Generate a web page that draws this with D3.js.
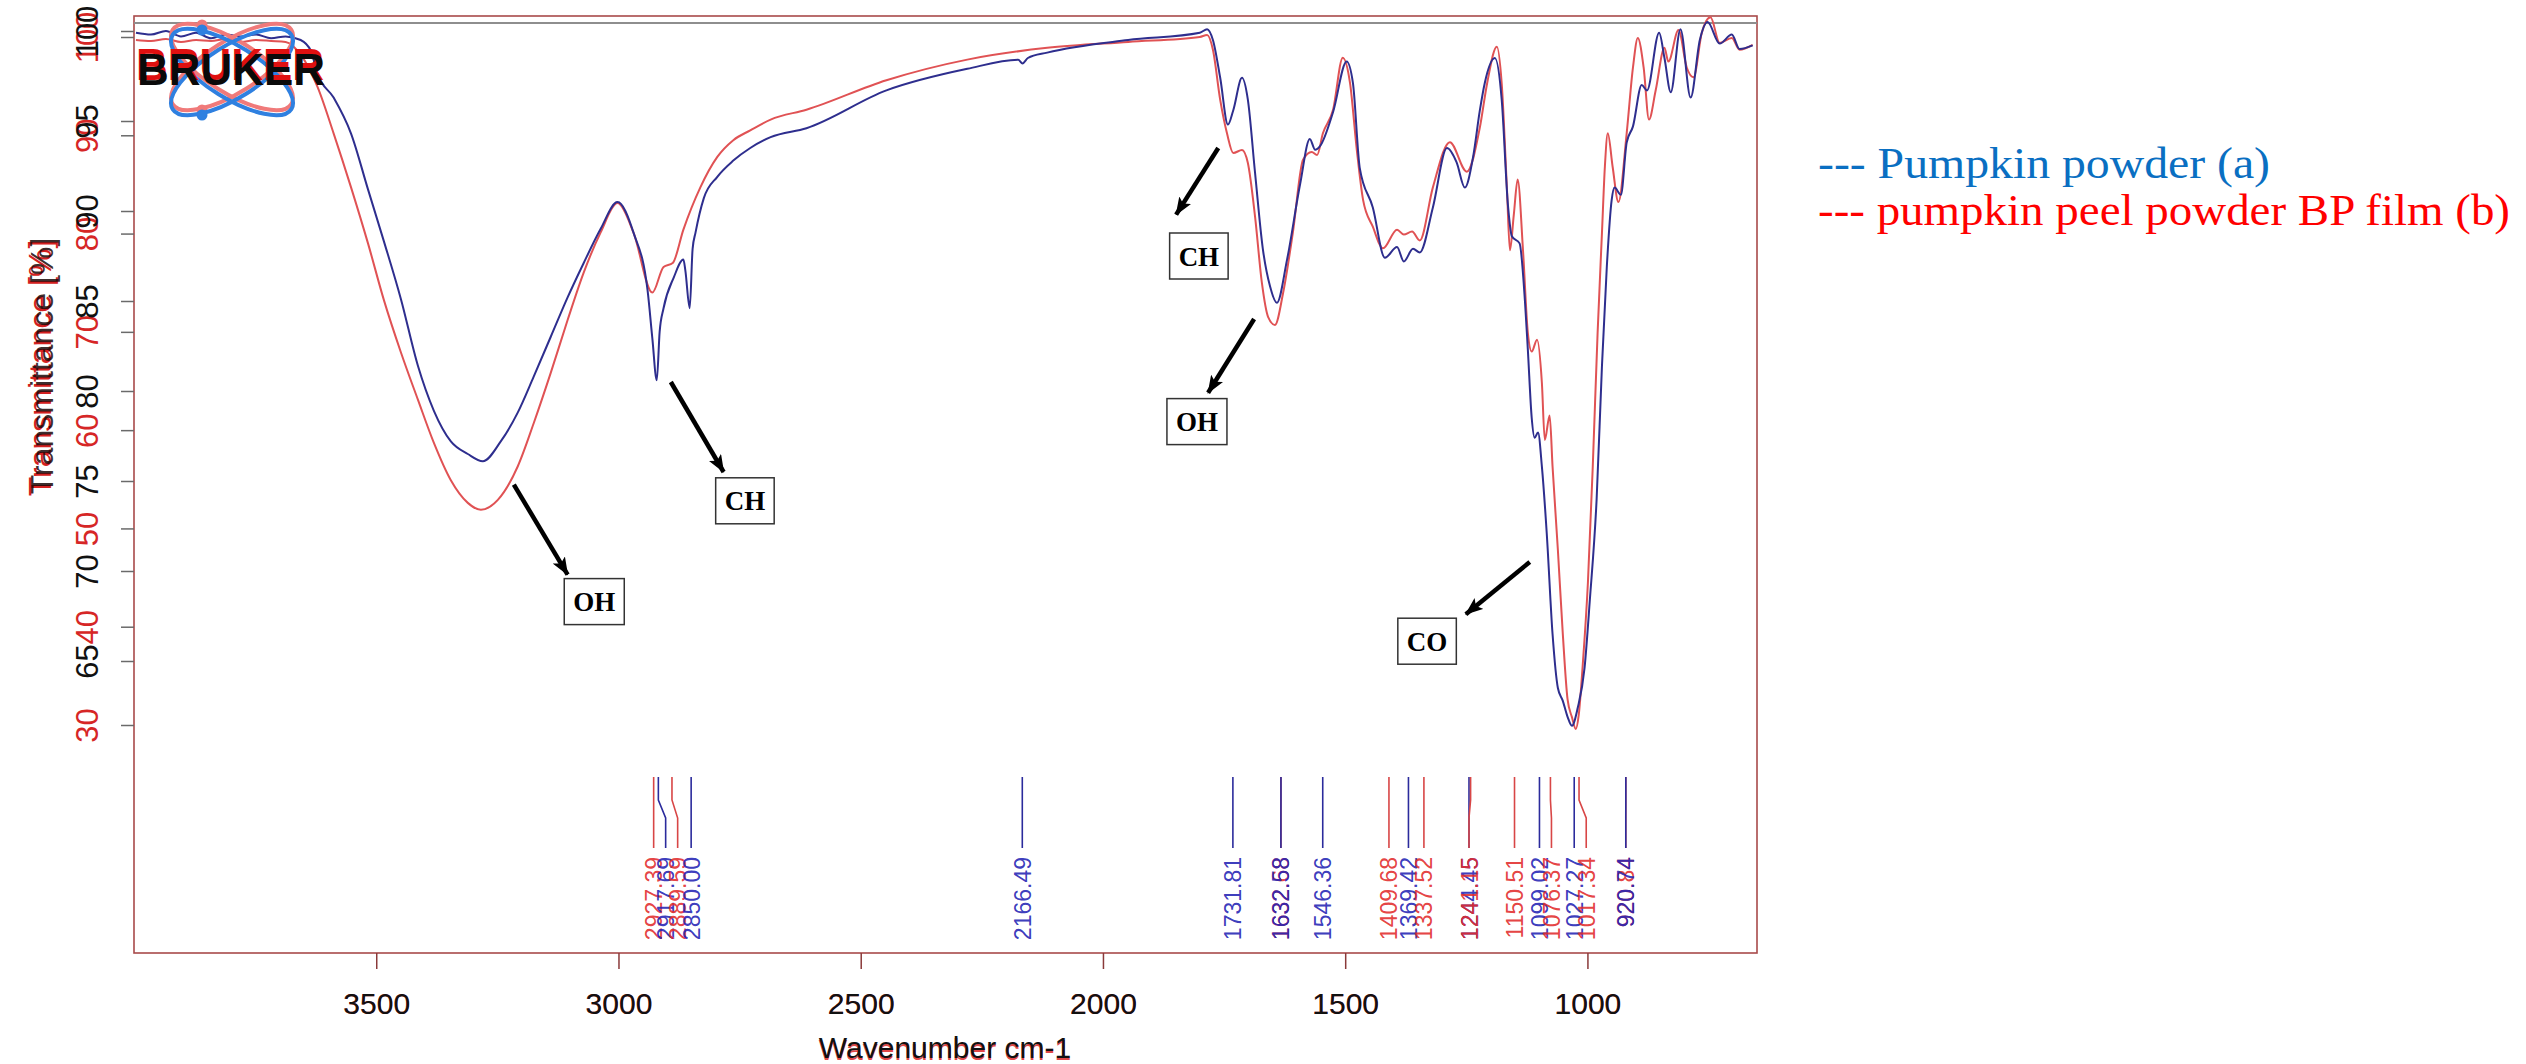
<!DOCTYPE html>
<html>
<head>
<meta charset="utf-8">
<title>FTIR: pumpkin powder vs pumpkin peel powder BP film</title>
<script src="https://cdnjs.cloudflare.com/ajax/libs/d3/7.8.5/d3.min.js"></script>
<style>
    body { margin: 0; background: #fff; }
    svg { display: block; font-family: "Liberation Sans", Arial, sans-serif; }
    .curve { fill: none; stroke-width: 2; stroke-linejoin: round; }
    .frame { fill: none; stroke: #a84a4a; stroke-width: 1.6; }
    .anno-box { fill: #fff; stroke: #333; stroke-width: 1.5; }
    .anno-text { font-family: "Liberation Serif", "Times New Roman", serif; font-weight: bold; font-size: 27px; }
    .legend { font-family: "Liberation Serif", "Times New Roman", serif; font-size: 44px; }
    .peak-label { font-size: 23px; }
</style>
</head>
<body>
<div id="vis"></div>
<script>
    // ---- data ----
    // Pumpkin powder (a): blue trace, left black axis
    var blueWn = [3996, 3965, 3934, 3903, 3872, 3841, 3810, 3779, 3748, 3717, 3687, 3656,
        3635, 3621, 3588, 3552, 3517, 3484, 3449, 3414, 3381, 3346,
        3311, 3280, 3243, 3208, 3175, 3140, 3105, 3072, 3037, 3002,
        2969, 2940, 2930, 2921, 2915, 2907, 2886, 2866, 2862, 2853,
        2847, 2841, 2824, 2796, 2763, 2728, 2686, 2612, 2447, 2280,
        2175, 2166, 2155, 2115, 1948, 1800, 1785, 1773, 1758, 1742,
        1731, 1713, 1701, 1686, 1670, 1655, 1641, 1620, 1593, 1573,
        1562, 1552, 1525, 1497, 1484, 1470, 1443, 1418, 1393, 1379,
        1360, 1346, 1319, 1290, 1270, 1253, 1236, 1222, 1212, 1191,
        1177, 1164, 1156, 1140, 1129, 1123, 1115, 1109, 1102, 1094,
        1084, 1072, 1061, 1051, 1041, 1032, 1020, 1006, 995, 981,
        970, 960, 950, 944, 931, 919, 906, 888, 877, 852,
        841, 828, 808, 787, 768, 752, 727, 702, 686, 659];
    var blueT = [99.9, 99.8, 100.0, 99.7, 99.9, 99.6, 99.8, 99.7, 99.8, 99.6, 99.7, 99.5,
        98.9, 97.6, 96.3, 94.3, 91.2, 88.3, 85.1, 81.4, 78.9, 77.2,
        76.5, 76.1, 77.2, 78.8, 80.8, 83.0, 85.2, 87.1, 89.0, 90.5,
        88.8, 85.6, 82.9, 80.6, 83.3, 84.6, 86.3, 87.3, 86.7, 84.6,
        87.9, 88.8, 90.7, 91.9, 92.8, 93.5, 94.1, 94.6, 96.7, 97.9,
        98.4, 98.2, 98.5, 98.8, 99.5, 99.9, 100.1, 99.5, 97.4, 94.8,
        95.6, 97.4, 96.2, 92.1, 87.9, 85.8, 84.9, 87.3, 91.5, 94.0,
        93.4, 93.6, 95.5, 98.3, 97.1, 92.4, 90.2, 87.4, 88.0, 87.2,
        87.9, 87.7, 90.2, 93.5, 92.7, 91.3, 93.0, 95.6, 97.1, 98.5,
        96.2, 90.3, 88.6, 88.2, 85.0, 82.3, 78.5, 77.4, 77.7, 75.8,
        72.1, 66.5, 63.5, 62.8, 61.9, 61.4, 62.4, 64.6, 68.4, 74.0,
        81.4, 86.9, 90.6, 91.3, 90.9, 93.8, 94.7, 97.0, 96.7, 99.9,
        98.5, 96.6, 100.1, 96.3, 99.5, 100.5, 99.3, 99.8, 99.0, 99.2];

    // pumpkin peel powder BP film (b): red trace, red axis
    var redWn = [3996, 3965, 3934, 3903, 3872, 3841, 3810, 3779, 3748, 3717, 3687,
        3656, 3621, 3588, 3552, 3517, 3484, 3449, 3414, 3381, 3346,
        3311, 3284, 3249, 3208, 3175, 3140, 3105, 3072, 3037, 3002,
        2969, 2930, 2907, 2888, 2866, 2831, 2796, 2763, 2728, 2686,
        2612, 2447, 2280, 2115, 1948,
        1800, 1785, 1773, 1758, 1744, 1731, 1713, 1701, 1686, 1672,
        1659, 1645, 1628, 1608, 1587, 1569, 1558, 1546, 1525, 1505,
        1490, 1476, 1463, 1443, 1422, 1393, 1379, 1362, 1346, 1319,
        1284, 1249, 1222, 1207, 1187, 1177, 1166, 1160, 1152, 1144,
        1133, 1123, 1115, 1104, 1094, 1088, 1078, 1072, 1061, 1051,
        1041, 1032, 1024, 1018, 1010, 999, 989, 979, 970, 964,
        958, 948, 936, 919, 906, 896, 884, 873, 859, 841,
        833, 812, 795, 781, 764, 746, 727, 702, 686, 659];
    var redT = [99.7, 99.6, 99.8, 99.5, 99.7, 99.6, 99.8, 99.5, 99.7, 99.6, 99.5,
        98.2, 94.9, 90.2, 84.7, 79.0, 73.2, 67.9, 63.1, 58.7, 54.9,
        52.6, 51.9, 52.9, 56.3, 60.7, 65.8, 71.2, 76.0, 80.1, 83.1,
        80.1, 74.0, 76.6, 77.0, 80.4, 84.7, 87.8, 89.5, 90.5, 91.6,
        92.6, 95.6, 97.7, 98.9, 99.5,
        100.0, 100.2, 98.7, 93.6, 90.2, 88.2, 88.5, 87.2, 81.7, 75.0,
        71.5, 70.7, 74.0, 80.1, 87.5, 88.3, 88.0, 90.2, 92.6, 97.9,
        95.3, 88.5, 83.4, 80.7, 78.5, 80.4, 79.9, 80.2, 79.3, 84.7,
        89.3, 86.3, 90.8, 95.3, 99.0, 95.3, 84.4, 78.3, 81.9, 85.5,
        78.3, 69.9, 68.0, 69.2, 64.8, 59.0, 61.5, 56.3, 47.8, 39.4,
        32.6, 30.8, 29.6, 31.0, 35.9, 44.5, 56.3, 69.9, 80.1, 86.8,
        90.2, 86.8, 83.2, 90.2, 96.9, 99.9, 96.9, 91.6, 94.6, 98.9,
        97.5, 100.7, 96.9, 95.9, 100.4, 102.0, 99.4, 99.9, 98.7, 99.2];

    // peak picks printed under the spectra
    var bluePeakWn = [2917.69, 2850.00, 2166.49, 1731.81, 1632.58, 1546.36, 1369.42, 1244.45, 1099.02, 1027.27, 920.74];
    var redPeakWn = [2927.39, 2889.59, 1632.68, 1409.68, 1337.52, 1241.15, 1150.51, 1076.37, 1017.34, 920.84];

    // axis ticks
    var xTicks = [3500, 3000, 2500, 2000, 1500, 1000];
    var blackTicks = [100, 95, 90, 85, 80, 75, 70, 65];
    var redTicks = [100, 90, 80, 70, 60, 50, 40, 30];

    // band annotations (box centre and arrow, in wavenumber / left-axis units)
    var annoLabels = ["OH", "CH", "CH", "OH", "CO"];
    var annoBoxWn = [3050, 2739, 1802, 1806, 1331];
    var annoBoxT = [68.3, 73.9, 87.5, 78.3, 66.1];
    var arrowFromWn = [3216, 2892, 1762, 1688, 1119];
    var arrowFromT = [74.8, 80.5, 93.5, 84.0, 70.5];
    var arrowToWn = [3105, 2783, 1849, 1783, 1251];
    var arrowToT = [69.8, 75.5, 89.8, 79.9, 67.6];

    var legendLabels = ["--- Pumpkin powder (a)", "--- pumpkin peel powder BP film (b)"];

    // ---- layout ----
    var width = 2526,
        height = 1064;
    var plotLeft = 134, plotRight = 1757, plotTop = 16, plotBottom = 953;

    var blueLine = "#2e2e8e", redLine = "#e05254";

    var x = d3.scaleLinear().domain([4000, 650]).range([plotLeft, plotRight]);
    var yBlack = d3.scaleLinear().domain([65, 100]).range([661, 31]);
    var yRed = d3.scaleLinear().domain([30, 100]).range([725, 37]);

    var svg = d3.select("#vis").append("svg")
        .attr("width", width)
        .attr("height", height);

    svg.append("defs").append("clipPath").attr("id", "plot-clip")
        .append("rect")
        .attr("x", plotLeft).attr("y", plotTop)
        .attr("width", plotRight - plotLeft).attr("height", plotBottom - plotTop);

    var marker = svg.select("defs").append("marker")
        .attr("id", "arrowhead")
        .attr("markerUnits", "userSpaceOnUse")
        .attr("viewBox", "0 0 18 14")
        .attr("markerWidth", 18)
        .attr("markerHeight", 14)
        .attr("refX", 17)
        .attr("refY", 7)
        .attr("orient", "auto");
    marker.append("path").attr("d", "M0,0 L18,7 L0,14 L4,7 Z").attr("fill", "#000");

    // frame: red plot box plus the grey top edge of the second overlay
    svg.append("rect")
        .attr("class", "frame")
        .attr("x", plotLeft).attr("y", plotTop)
        .attr("width", plotRight - plotLeft).attr("height", plotBottom - plotTop);
    svg.append("line")
        .attr("x1", plotLeft).attr("x2", plotRight)
        .attr("y1", 23).attr("y2", 23)
        .attr("stroke", "#8e8e8e").attr("stroke-width", 2);

    // ---- spectra ----
    var blueData = blueWn.map(function(w, i) { return [w, blueT[i]]; });
    var redData = redWn.map(function(w, i) { return [w, redT[i]]; });

    var curves = svg.append("g").attr("clip-path", "url(#plot-clip)");

    curves.append("path")
        .datum(redData)
        .attr("class", "curve")
        .attr("stroke", redLine)
        .attr("d", d3.line()
            .x(function(d) { return x(d[0]); })
            .y(function(d) { return yRed(d[1]); })
            .curve(d3.curveMonotoneX));

    curves.append("path")
        .datum(blueData)
        .attr("class", "curve")
        .attr("stroke", blueLine)
        .attr("d", d3.line()
            .x(function(d) { return x(d[0]); })
            .y(function(d) { return yBlack(d[1]); })
            .curve(d3.curveMonotoneX));

    // ---- Bruker logo ----
    var logo = svg.append("g").attr("class", "logo");
    [{ dy: -5, c: "#f07a7a" }, { dy: 0, c: "#2f80e0" }].forEach(function(l) {
        [-32, 32].forEach(function(a) {
            logo.append("ellipse")
                .attr("cx", 232).attr("cy", 72 + l.dy)
                .attr("rx", 70).attr("ry", 26)
                .attr("transform", "rotate(" + a + ",232," + (72 + l.dy) + ")")
                .attr("fill", "none").attr("stroke", l.c).attr("stroke-width", 4);
        });
        logo.append("circle").attr("cx", 202).attr("cy", 30 + l.dy).attr("r", 5.5).attr("fill", l.c);
        logo.append("circle").attr("cx", 202).attr("cy", 115 + l.dy).attr("r", 5.5).attr("fill", l.c);
    });
    logo.append("text")
        .attr("x", 136).attr("y", 80)
        .attr("textLength", 188).attr("lengthAdjust", "spacingAndGlyphs")
        .style("font-size", "44px").style("font-weight", "900")
        .attr("fill", "#e01010")
        .text("BRUKER");
    logo.append("text")
        .attr("x", 137).attr("y", 85)
        .attr("textLength", 188).attr("lengthAdjust", "spacingAndGlyphs")
        .style("font-size", "44px").style("font-weight", "900")
        .attr("fill", "#0a0a0a")
        .text("BRUKER");

    // ---- y axes (red ticks underneath, black on top) ----
    function yAxis(scale, ticks, color) {
        var g = svg.append("g")
            .attr("transform", "translate(" + plotLeft + ",0)")
            .call(d3.axisLeft(scale).tickValues(ticks).tickSize(13).tickFormat(d3.format("d")));
        g.attr("font-family", null).attr("font-size", null);
        g.select(".domain").remove();
        g.selectAll(".tick line").attr("stroke", "#6a6a6a").attr("stroke-width", 1.5);
        g.selectAll(".tick text")
            .attr("x", null).attr("dy", null)
            .attr("text-anchor", "middle")
            .attr("transform", "translate(-36,0) rotate(-90)")
            .attr("fill", color)
            .style("font-size", "31px");
        return g;
    }
    yAxis(yRed, redTicks, "#d62626");
    yAxis(yBlack, blackTicks, "#111");

    svg.append("text")
        .attr("transform", "translate(51,368) rotate(-90)")
        .attr("text-anchor", "middle")
        .style("font-size", "32px")
        .attr("fill", "#d42020")
        .text("Transmittance [%]");
    svg.append("text")
        .attr("transform", "translate(53,366) rotate(-90)")
        .attr("text-anchor", "middle")
        .style("font-size", "32px")
        .attr("fill", "#1a0808")
        .attr("fill-opacity", 0.85)
        .text("Transmittance [%]");

    // ---- x axis ----
    function xAxis(offset, color, keepLines) {
        var g = svg.append("g")
            .attr("transform", "translate(0," + (plotBottom + offset) + ")")
            .call(d3.axisBottom(x).tickValues(xTicks).tickSize(16).tickFormat(d3.format("d")));
        g.attr("font-family", null).attr("font-size", null);
        g.select(".domain").remove();
        if (keepLines) {
            g.selectAll(".tick line").attr("stroke", "#8a3a3a").attr("stroke-width", 1.5);
        } else {
            g.selectAll(".tick line").remove();
        }
        g.selectAll(".tick text")
            .attr("y", 61 - offset).attr("dy", null)
            .attr("fill", color)
            .style("font-size", "30px");
    }
    xAxis(1.5, "#e04848", false);
    xAxis(0, "#111", true);

    svg.append("text")
        .attr("x", 945).attr("y", 1059.5)
        .attr("text-anchor", "middle")
        .style("font-size", "30px")
        .attr("fill", "#e04848")
        .text("Wavenumber cm-1");
    svg.append("text")
        .attr("x", 945).attr("y", 1058)
        .attr("text-anchor", "middle")
        .style("font-size", "30px")
        .attr("fill", "#111")
        .text("Wavenumber cm-1");

    // ---- peak picks ----
    var peaks = bluePeakWn.map(function(w) { return { wn: w, series: "b" }; })
        .concat(redPeakWn.map(function(w) { return { wn: w, series: "r" }; }));
    peaks.sort(function(a, b) { return x(a.wn) - x(b.wn); });

    var prev = null;
    peaks.forEach(function(p) {
        p.px = x(p.wn);
        p.lx = p.px;
        if (prev) {
            if (p.series !== prev.series && Math.abs(p.px - prev.px) < 3) {
                p.lx = prev.lx;
            } else if (p.lx < prev.lx + 12) {
                p.lx = prev.lx + 12;
            }
        }
        prev = p;
    });

    var peakG = svg.append("g").attr("class", "peaks");
    peakG.selectAll("path")
        .data(peaks)
        .enter().append("path")
        .attr("fill", "none")
        .attr("stroke-width", 1.6)
        .attr("stroke", function(d) { return d.series === "b" ? "#2b2b9c" : "#d84646"; })
        .attr("d", function(d) {
            return "M" + d.px + ",777V800L" + d.lx + ",818V848";
        });

    peakG.selectAll("text")
        .data(peaks)
        .enter().append("text")
        .attr("class", "peak-label")
        .attr("text-anchor", "end")
        .attr("transform", function(d) {
            return "translate(" + (d.lx + 8.5) + ",857) rotate(-90)";
        })
        .attr("fill", function(d) { return d.series === "b" ? "#2424b4" : "#e22c2c"; })
        .attr("fill-opacity", 0.9)
        .text(function(d) { return d3.format(".2f")(d.wn); });

    // ---- band annotations ----
    var annoG = svg.append("g").attr("class", "annotations");
    annoLabels.forEach(function(label, i) {
        annoG.append("line")
            .attr("x1", x(arrowFromWn[i])).attr("y1", yBlack(arrowFromT[i]))
            .attr("x2", x(arrowToWn[i])).attr("y2", yBlack(arrowToT[i]))
            .attr("stroke", "#000").attr("stroke-width", 4.5)
            .attr("marker-end", "url(#arrowhead)");

        var cx = x(annoBoxWn[i]), cy = yBlack(annoBoxT[i]);
        var box = annoG.append("rect").attr("class", "anno-box");
        var t = annoG.append("text")
            .attr("class", "anno-text")
            .attr("x", cx).attr("y", cy + 9.5)
            .attr("text-anchor", "middle")
            .text(label);
        var w = t.node().getBBox().width + 18;
        box.attr("x", cx - w / 2).attr("y", cy - 23)
            .attr("width", w).attr("height", 46);
    });

    // ---- legend ----
    var legendColors = ["#0a6fc2", "#ff0000"];
    var legendLengths = [452, 692];
    svg.selectAll(".legend")
        .data(legendLabels)
        .enter().append("text")
        .attr("class", "legend")
        .attr("x", 1818)
        .attr("y", function(d, i) { return 178 + i * 47; })
        .attr("textLength", function(d, i) { return legendLengths[i]; })
        .attr("lengthAdjust", "spacingAndGlyphs")
        .attr("fill", function(d, i) { return legendColors[i]; })
        .text(function(d) { return d; });
</script>
</body>
</html>
